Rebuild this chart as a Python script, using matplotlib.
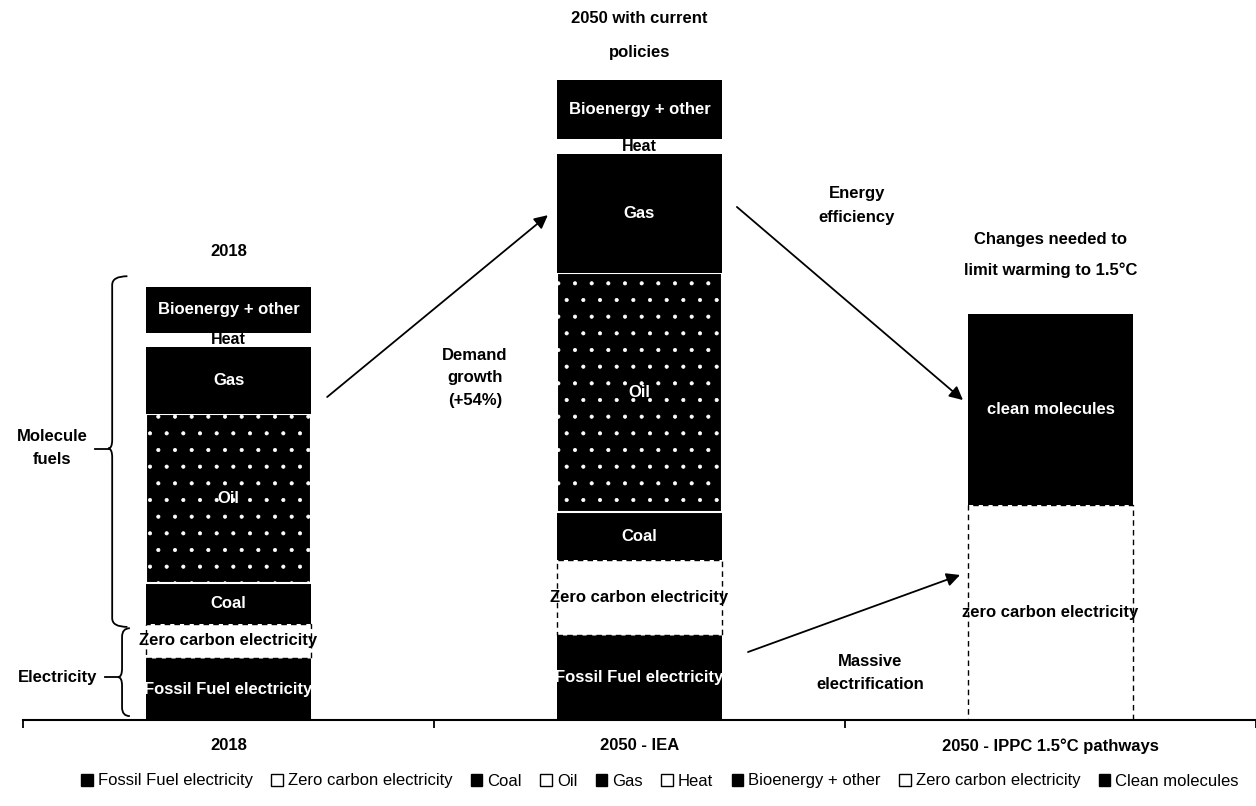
import matplotlib
matplotlib.use('Agg')
import matplotlib.pyplot as plt
from matplotlib.patches import Patch, PathPatch
from matplotlib.path import Path
import numpy as np

plt.rcParams['font.family'] = ['Liberation Sans', 'DejaVu Sans']
plt.rcParams['hatch.linewidth'] = 0.5

# ---------------- data ----------------
categories = ['2018', '2050 - IEA', '2050 - IPPC 1.5°C pathways']
series_names = ['Fossil Fuel electricity', 'Zero carbon electricity', 'Coal', 'Oil', 'Gas',
                'Heat', 'Bioenergy + other', 'Zero carbon electricity', 'Clean molecules']
bar_labels = ['Fossil Fuel electricity', 'Zero carbon electricity', 'Coal', 'Oil', 'Gas',
              'Heat', 'Bioenergy + other', 'zero carbon electricity', 'clean molecules']
fossil_electricity = [14.3, 19.6, 0]
zero_carbon_electricity = [7.9, 17.3, 0]
coal = [9.5, 11.1, 0]
oil = [39.0, 55.2, 0]
gas = [15.5, 27.5, 0]
heat = [3.2, 3.5, 0]
bioenergy_other = [10.6, 13.6, 0]
zero_carbon_electricity_ipcc = [0, 0, 49.7]
clean_molecules = [0, 0, 44.1]
series_values = [fossil_electricity, zero_carbon_electricity, coal, oil, gas,
                 heat, bioenergy_other, zero_carbon_electricity_ipcc, clean_molecules]

# ---------------- styles ----------------
FS = 12
styles = [
    dict(fc='black', ec='black', hatch=None, ls='-', lw=0, tc='white', fs=FS, legend_fill=True),
    dict(fc='white', ec='black', hatch=None, ls=(0, (4, 3)), lw=1.0, tc='black', fs=FS, legend_fill=False),
    dict(fc='black', ec='black', hatch=None, ls='-', lw=0, tc='white', fs=FS, legend_fill=True),
    dict(fc='black', ec='white', hatch='.', ls='-', lw=1.5, tc='white', fs=FS, legend_fill=False),
    dict(fc='black', ec='black', hatch=None, ls='-', lw=0, tc='white', fs=FS, legend_fill=True),
    dict(fc='white', ec='white', hatch=None, ls='-', lw=0, tc='black', fs=11.5, legend_fill=False),
    dict(fc='black', ec='black', hatch=None, ls='-', lw=0, tc='white', fs=FS, legend_fill=True),
    dict(fc='white', ec='black', hatch=None, ls=(0, (4, 3)), lw=1.0, tc='black', fs=FS, legend_fill=False),
    dict(fc='black', ec='black', hatch=None, ls='-', lw=0, tc='white', fs=FS, legend_fill=True),
]

W, H = 1256, 806
fig = plt.figure(figsize=(W / 100, H / 100), dpi=100)
ax = fig.add_axes([23 / W, 86 / H, 1 - 23 / W, 720 / H])

x = np.arange(len(categories))
bar_w = 0.40
bottom = np.zeros(len(categories))
for vals, lab, st in zip(series_values, bar_labels, styles):
    v = np.array(vals, dtype=float)
    m = v > 0
    ax.bar(x[m], v[m], bar_w, bottom=bottom[m], color=st['fc'], edgecolor=st['ec'],
           hatch=st['hatch'], linestyle=st['ls'], linewidth=st['lw'], zorder=2)
    for i in range(len(x)):
        if v[i] > 0:
            ax.text(x[i], bottom[i] + v[i] / 2, lab, ha='center', va='center',
                    color=st['tc'], fontsize=st['fs'], fontweight='bold', zorder=3)
    bottom += v

ax.set_xlim(-0.5, 2.5)
ax.set_ylim(0, 166.3)
for s in ['top', 'right', 'left']:
    ax.spines[s].set_visible(False)
ax.spines['bottom'].set_linewidth(1.5)
ax.spines['bottom'].set_zorder(4)
ax.set_yticks([])
ax.set_xticks(x)
ax.set_xticklabels(categories, fontsize=FS, fontweight='bold')
ax.tick_params(axis='x', which='major', length=0, pad=13)
ax.set_xticks([-0.5, 0.5, 1.5, 2.5], minor=True)
ax.tick_params(axis='x', which='minor', length=6, width=1.3, direction='out')

# titles above bars
totals = bottom
ax.text(0, 108.1, '2018', ha='center', va='center', fontsize=FS, fontweight='bold')
ax.text(1, 158.1, '2050 with current\npolicies', ha='center', va='center', fontsize=FS,
        fontweight='bold', linespacing=2.6)
ax.text(2, 107.4, 'Changes needed to\nlimit warming to 1.5°C', ha='center', va='center',
        fontsize=FS, fontweight='bold', linespacing=2.2)

# annotations
ax.text(0.600, 79.0, 'Demand\ngrowth\n(+54%)', ha='center', va='center', fontsize=FS,
        fontweight='bold', linespacing=1.62)
ax.text(1.529, 118.9, 'Energy\nefficiency', ha='center', va='center', fontsize=FS,
        fontweight='bold', linespacing=1.78)
ax.text(1.561, 10.9, 'Massive\nelectrification', ha='center', va='center', fontsize=FS,
        fontweight='bold', linespacing=1.63)

arrow_kw = dict(arrowstyle='-|>', color='black', lw=1.3, mutation_scale=20, shrinkA=0, shrinkB=0)
ax.annotate('', xy=(0.777, 116.6), xytext=(0.240, 74.6), arrowprops=arrow_kw)
ax.annotate('', xy=(1.787, 73.9), xytext=(1.237, 118.5), arrowprops=arrow_kw)
ax.annotate('', xy=(1.780, 33.5), xytext=(1.264, 15.7), arrowprops=arrow_kw)

# braces
def brace(y0, y1, ytip, xm, xe, xtip, r=2.0):
    verts = [(xe, y1), (xm, y1), (xm, y1 - r), (xm, ytip + r), (xm, ytip), (xtip, ytip),
             (xm, ytip), (xm, ytip - r), (xm, y0 + r), (xm, y0), (xe, y0)]
    codes = [Path.MOVETO, Path.CURVE3, Path.CURVE3, Path.LINETO, Path.CURVE3, Path.CURVE3,
             Path.CURVE3, Path.CURVE3, Path.LINETO, Path.CURVE3, Path.CURVE3]
    ax.add_patch(PathPatch(Path(verts, codes), fill=False, lw=1.3, color='black', clip_on=False))

elec_top = fossil_electricity[0] + zero_carbon_electricity[0]
brace(elec_top - 0.7, totals[0] + 2.5, 62.7, -0.283, -0.246, -0.293)
ax.plot([-0.325, -0.293], [62.7, 62.7], color='black', lw=1.3, clip_on=False)
brace(0.9, elec_top - 1.0, 9.9, -0.259, -0.240, -0.269)
ax.plot([-0.300, -0.269], [9.9, 9.9], color='black', lw=1.3, clip_on=False)

ax.text(-0.429, 62.8, 'Molecule\nfuels', ha='center', va='center', fontsize=FS,
        fontweight='bold', linespacing=1.66)
ax.text(-0.415, 9.9, 'Electricity', ha='center', va='center', fontsize=FS, fontweight='bold')

# legend
handles = [Patch(facecolor='black' if st['legend_fill'] else 'white', edgecolor='black', lw=1.0)
           for st in styles]
fig.legend(handles, series_names, loc='center', bbox_to_anchor=(660 / W, 1 - 781 / H), ncol=9,
           frameon=False, handlelength=0.7, handleheight=0.7, handletextpad=0.3,
           columnspacing=1.1, fontsize=12)

fig.savefig('out.png', dpi=100)
